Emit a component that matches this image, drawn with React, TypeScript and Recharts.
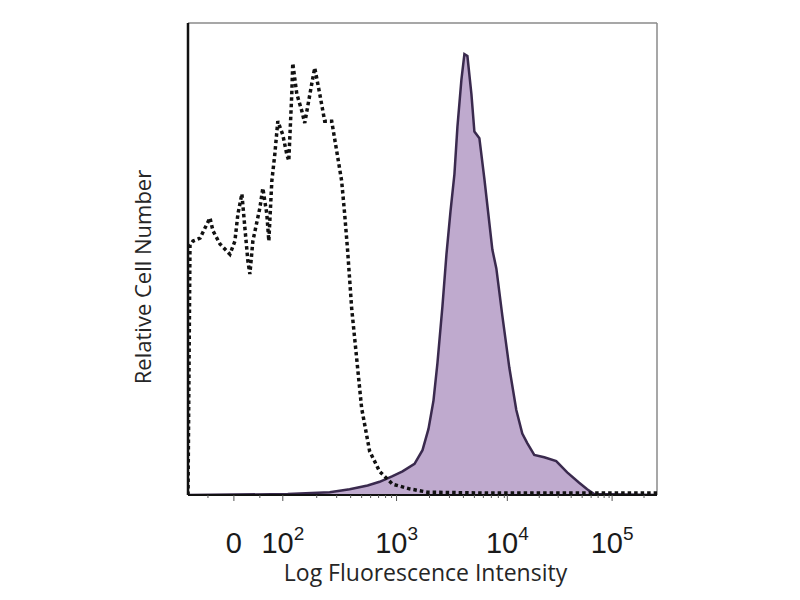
import React from 'react';
import { ComposedChart, Area, Line, XAxis, YAxis, ReferenceLine } from 'recharts';

// Display-channel positions (x) and relative cell counts (y)
const stainedX = [0, 100, 142, 162, 180, 192, 205, 215, 227, 235, 241, 246, 250, 255, 259, 263, 267, 270, 274, 277, 280, 284, 287, 292, 297, 305, 309, 315, 322, 329, 335, 340, 347, 357, 369, 380, 392, 400, 407, 470];
const stainedY = [0, 0.2, 0.6, 1.2, 2, 2.8, 4, 5, 6.6, 9.5, 14, 20, 28, 40, 51, 60, 68, 78, 88, 93.4, 93, 85, 77, 75.6, 67, 52, 48, 38, 27, 18, 13, 11, 8.5, 8, 7.2, 4.8, 2.6, 1.2, 0.2, 0];

const controlX = [0, 2, 5, 12, 22, 25, 32, 42, 47, 50, 54, 57, 60, 62, 65, 72, 75, 79, 81, 84, 87, 90, 95, 99, 101, 104, 105, 109, 114, 117, 124, 127, 132, 137, 144, 149, 154, 157, 160, 164, 169, 174, 182, 192, 205, 222, 240, 300, 470];
const controlY = [0, 53, 53.8, 54.4, 58.7, 56, 53.2, 51, 53.8, 59.5, 63.8, 56.6, 49.6, 46.8, 53.8, 60.8, 65, 59.5, 53.8, 66.5, 72.2, 79.2, 76.3, 72.2, 70.8, 85, 91.5, 85, 81.4, 78.8, 87.1, 90.5, 85, 79.2, 79.2, 72.9, 66.5, 59.5, 51.7, 39.6, 29, 18.4, 9.3, 5, 2.3, 1.3, 0.6, 0.4, 0.4];

const majorTicks = [46, 95, 209, 320, 425];
const tickBases = ['0', '10', '10', '10', '10'];
const tickExps = ['', '2', '3', '4', '5'];
const minorTicks = [20, 72, 129, 149, 163, 174, 183, 191, 198, 204, 242, 262, 276, 287, 296, 304, 311, 317, 352, 371, 384, 395, 404, 411, 417, 422, 457];

const xTitle = 'Log Fluorescence Intensity';
const yTitle = 'Relative Cell Number';

const table = (() => {
  const map = new Map<number, any>();
  stainedX.forEach((x, i) => {
    const r = map.get(x) || { x };
    r.stained = stainedY[i];
    map.set(x, r);
  });
  controlX.forEach((x, i) => {
    const r = map.get(x) || { x };
    r.control = controlY[i];
    map.set(x, r);
  });
  return Array.from(map.values()).sort((a, b) => a.x - b.x);
})();

const allTicks = [...majorTicks, ...minorTicks].sort((a, b) => a - b);
const SANS = '"Liberation Sans", Arial, sans-serif';
const TITLE = '"Open Sans", "Liberation Sans", sans-serif';

function XTick(props: any) {
  const { x, y, payload } = props;
  const idx = majorTicks.indexOf(payload.value);
  const major = idx >= 0;
  return (
    <g>
      <line x1={x} x2={x} y1={y} y2={y + (major ? 6 : 3)} stroke="#555" strokeWidth={1} />
      {major && (
        <text x={x} y={y + 58} textAnchor="middle" fontFamily={SANS} fontSize={29} fill="#1a1a1a">
          {tickBases[idx]}
          {tickExps[idx] ? (
            <tspan dy={-13} fontSize={19}>
              {tickExps[idx]}
            </tspan>
          ) : null}
        </text>
      )}
    </g>
  );
}

export default function App() {
  return (
    <ComposedChart
      width={800}
      height={600}
      data={table}
      margin={{ top: 15, right: 151, left: 120, bottom: 33 }}
      style={{ background: '#fff' }}
    >
      <XAxis
        type="number"
        dataKey="x"
        domain={[0, 470]}
        allowDataOverflow
        ticks={allTicks}
        interval={0}
        tickSize={0}
        tickMargin={0}
        tickLine={false}
        tick={<XTick />}
        height={80}
        axisLine={{ stroke: '#111', strokeWidth: 2 }}
        label={(p: any) => {
          const vb = p.viewBox;
          return (
            <text
              x={vb.x + vb.width / 2 + 3}
              y={vb.y + 86}
              textAnchor="middle"
              fontFamily={TITLE}
              fontSize={23}
              fill="#262626"
            >
              {xTitle}
            </text>
          );
        }}
      />
      <YAxis
        type="number"
        domain={[0, 100]}
        allowDataOverflow
        width={60}
        tick={false}
        tickLine={false}
        axisLine={{ stroke: '#111', strokeWidth: 2.5 }}
        label={(p: any) => {
          const vb = p.viewBox;
          const cx = vb.x + 14;
          const cy = vb.y + vb.height / 2 + 18;
          return (
            <text
              x={cx}
              y={cy}
              transform={`rotate(-90, ${cx}, ${cy})`}
              textAnchor="middle"
              dominantBaseline="central"
              fontFamily={TITLE}
              fontSize={22}
              fill="#262626"
            >
              {yTitle}
            </text>
          );
        }}
      />
      <ReferenceLine y={100} stroke="#8a8a8a" strokeWidth={1.5} ifOverflow="visible" />
      <ReferenceLine x={470} stroke="#8a8a8a" strokeWidth={1.5} ifOverflow="visible" />
      <Area
        type="linear"
        dataKey="stained"
        connectNulls
        fill="#bfaace"
        fillOpacity={1}
        stroke="#3a2a4e"
        strokeWidth={2.5}
        dot={false}
        activeDot={false}
        isAnimationActive={false}
      />
      <Line
        type="linear"
        dataKey="control"
        connectNulls
        stroke="#111"
        strokeWidth={3.5}
        strokeDasharray="3.5 3"
        dot={false}
        activeDot={false}
        isAnimationActive={false}
      />
    </ComposedChart>
  );
}
